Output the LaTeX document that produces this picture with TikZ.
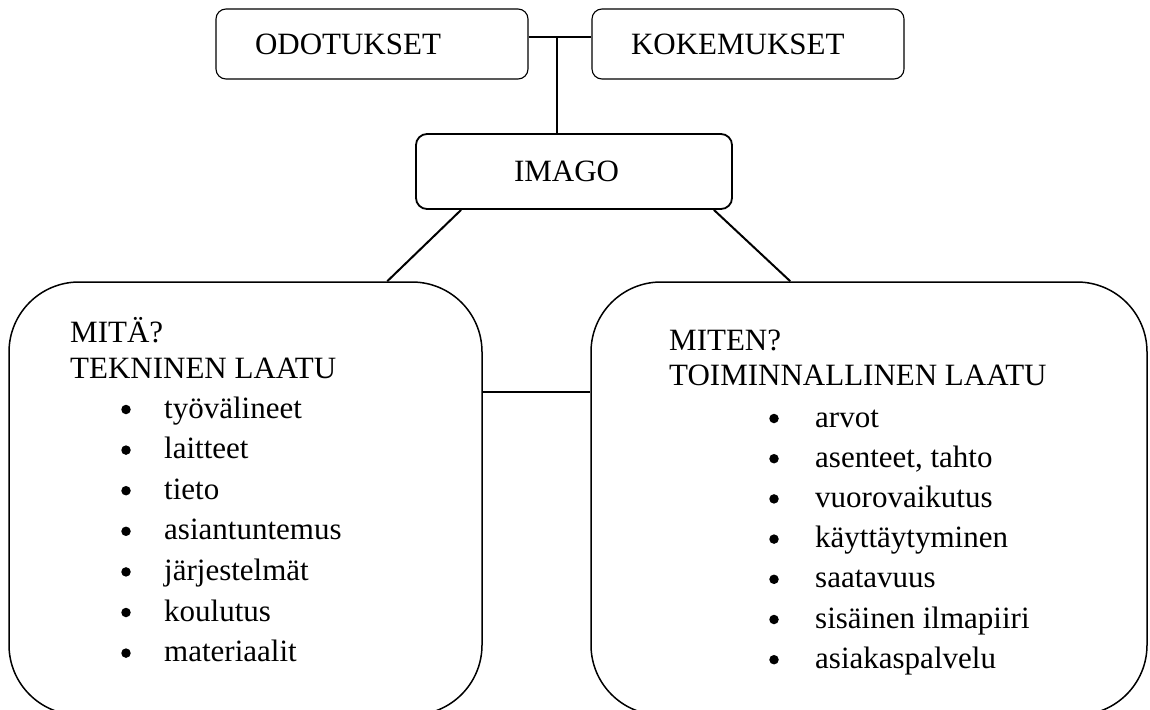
\documentclass[tikz,border=0pt]{standalone}
\usepackage{fontspec}
\setmainfont{Liberation Serif}
\usetikzlibrary{calc}
\begin{document}
\begin{tikzpicture}[x=1pt,y=-1pt,
  every node/.style={font=\fontsize{31}{37}\selectfont, inner sep=0pt, text=black},
  topbox/.style={draw, line width=1.1pt, rounded corners=10pt,
    minimum width=312pt, minimum height=70pt,
    text width=234pt, inner xsep=39pt, align=left},
  imagobox/.style={draw, line width=1.8pt, rounded corners=11pt,
    minimum width=316pt, minimum height=75pt,
    text width=120pt, inner xsep=98pt, align=left},
  bigbox/.style={draw, line width=1.5pt, rounded corners=70pt, minimum height=433pt},
  link/.style={line width=2pt},
  head/.style={anchor=base west},
  item/.style={anchor=base west},
  dot/.style={circle, fill=black, minimum size=9.5pt}
]
\useasboundingbox (0,0) rectangle (1150,709);
\clip (0,0) rectangle (1150,709);

% top row
\node[topbox] (odot) at (372,44) {ODOTUKSET};
\node[topbox] (koke) at (748,44) {KOKEMUKSET};
\node[imagobox] (imago) at (574,171.5) {IMAGO};

% the two quality boxes
\node[bigbox, minimum width=473pt] (lbox) at (245.5,498.5) {};
\node[bigbox, minimum width=556pt] (rbox) at (869,498.5) {};

% connectors
\coordinate (tj) at (557,37);
\draw[link] (odot.east |- tj) -- (koke.west |- tj);
\draw[link] (tj) -- (tj |- imago.north);
\draw[link] ($(imago.south west)+(46,0)$) -- ($(lbox.north west)+(379,0)$);
\draw[link] ($(imago.south east)+(-19,0)$) -- ($(rbox.north west)+(200,0)$);
\coordinate (mid) at (536,392);
\draw[link] (lbox.east |- mid) -- (rbox.west |- mid);

% technical quality
\node[head] (lh1) at (70,342) {MITÄ?};
\node[head] (lh2) at (70,378) {TEKNINEN LAATU};
\foreach \t [count=\i from 0] in {työvälineet, laitteet, tieto, asiantuntemus,
    järjestelmät, koulutus, materiaalit} {
  \node[dot] (lb\i) at (126,418+40.6*\i-8.5) {};
  \node[item] (li\i) at (164,418+40.6*\i) {\t};
}

% functional quality
\node[head] (rh1) at (669,350) {MITEN?};
\node[head] (rh2) at (669,385) {TOIMINNALLINEN LAATU};
\foreach \t [count=\i from 0] in {arvot, {asenteet, tahto}, vuorovaikutus,
    käyttäytyminen, saatavuus, sisäinen ilmapiiri, asiakaspalvelu} {
  \node[dot] (rb\i) at (774,427+40.2*\i-8.5) {};
  \node[item] (ri\i) at (815,427+40.2*\i) {\t};
}
\end{tikzpicture}
\end{document}
